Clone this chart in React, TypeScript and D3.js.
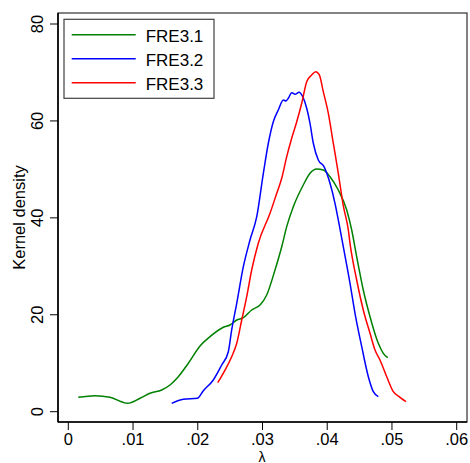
import React from "react";
import * as d3 from "d3";

const xTicks = [0, 0.01, 0.02, 0.03, 0.04, 0.05, 0.06];
const xTickLabels = ["0", ".01", ".02", ".03", ".04", ".05", ".06"];
const yTicks = [0, 20, 40, 60, 80];
const seriesNames = ["FRE3.1", "FRE3.2", "FRE3.3"];
const seriesColors = ["#008000", "#0000ff", "#ff0000"];

const fre31: [number, number][] = [
  [0.00154, 2.97], [0.00412, 3.3], [0.00644, 2.97], [0.00918, 1.73], [0.01108, 2.77],
  [0.01262, 3.8], [0.01443, 4.48], [0.01571, 5.51], [0.01699, 7.22], [0.01854, 9.99],
  [0.02035, 13.56], [0.02189, 15.48], [0.02395, 17.42], [0.02498, 17.89], [0.02602, 18.92],
  [0.02704, 19.4], [0.02833, 20.99], [0.02962, 22.02], [0.03065, 24.08], [0.03193, 29.24],
  [0.03297, 34.05], [0.03374, 38.18], [0.03476, 42.3], [0.0363, 46.78], [0.03734, 49.19],
  [0.03837, 50.08], [0.03939, 49.88], [0.04043, 48.49], [0.04171, 45.75], [0.04301, 41.62],
  [0.04378, 37.49], [0.04455, 31.98], [0.04557, 25.11], [0.04661, 19.6], [0.04789, 14.11],
  [0.04866, 12.05], [0.04934, 11.14],
];

const fre32: [number, number][] = [
  [0.01597, 1.73], [0.01777, 2.56], [0.01993, 2.77], [0.02086, 4.33], [0.0224, 6.54],
  [0.0237, 9.64], [0.02472, 12.38], [0.02524, 16.86], [0.02602, 22.37], [0.02704, 29.92],
  [0.02807, 35.43], [0.02911, 40.24], [0.03013, 49.19], [0.0309, 55.39], [0.03167, 59.84],
  [0.03244, 62.26], [0.03322, 64.32], [0.03363, 64.11], [0.03399, 64.67], [0.03451, 65.83],
  [0.03502, 65.5], [0.03564, 65.91], [0.03621, 65.0], [0.03683, 62.61], [0.03734, 59.51],
  [0.03785, 55.39], [0.03862, 51.94], [0.0395, 50.56], [0.04043, 47.13], [0.0412, 43.0],
  [0.04171, 39.56], [0.04248, 34.05], [0.04352, 26.5], [0.04429, 20.31], [0.04533, 13.41],
  [0.04635, 7.22], [0.04712, 4.13], [0.04789, 3.1],
];

const fre33: [number, number][] = [
  [0.02308, 5.98], [0.02421, 8.6], [0.02524, 11.35], [0.02602, 14.11], [0.02679, 18.92],
  [0.02756, 23.73], [0.02833, 29.24], [0.02935, 34.75], [0.03116, 40.94], [0.0322, 45.07],
  [0.03297, 48.16], [0.03374, 52.62], [0.03451, 56.42], [0.03529, 59.84], [0.03606, 63.64],
  [0.03683, 68.1], [0.0376, 69.48], [0.03822, 70.16], [0.03878, 69.48], [0.03939, 66.03],
  [0.04017, 61.58], [0.04094, 55.39], [0.04171, 49.19], [0.04248, 42.52], [0.04326, 37.49],
  [0.04352, 34.75], [0.04455, 27.18], [0.04557, 20.99], [0.04661, 16.18], [0.04738, 12.73],
  [0.04815, 10.67], [0.04919, 7.22], [0.05021, 4.13], [0.05124, 2.97], [0.05217, 2.06],
];

const allSeries = [fre31, fre32, fre33];

export default function App() {
  const W = 470, H = 463;
  const plot = { left: 58, top: 13, right: 467, bottom: 422 };
  const x = d3.scaleLinear().domain([0, 0.06]).range([68.3, 456.7]);
  const y = d3.scaleLinear().domain([0, 80]).range([411.7, 24]);
  const line = d3
    .line<[number, number]>()
    .x((d) => x(d[0]))
    .y((d) => y(d[1]))
    .curve(d3.curveMonotoneX);
  const font = "'Liberation Sans', Arial, Helvetica, sans-serif";

  return (
    <svg
      width={W}
      height={H}
      style={{ position: "absolute", left: 0, top: 0, background: "#fff" }}
      fontFamily={font}
    >
      <rect x={0} y={0} width={W} height={H} fill="#fff" />
      {/* frame */}
      <rect
        x={plot.left}
        y={plot.top}
        width={plot.right - plot.left}
        height={plot.bottom - plot.top}
        fill="none"
        stroke="#404040"
        strokeWidth={1.3}
      />
      {/* series */}
      {allSeries.map((s, i) => (
        <path key={i} d={line(s) || ""} fill="none" stroke={seriesColors[i]} strokeWidth={1.5} />
      ))}
      {/* axes */}
      <line x1={plot.left} x2={plot.left} y1={plot.top} y2={plot.bottom} stroke="#000" strokeWidth={1.6} />
      <line x1={plot.left} x2={plot.right} y1={plot.bottom} y2={plot.bottom} stroke="#000" strokeWidth={1.6} />
      {yTicks.map((t) => (
        <g key={t}>
          <line x1={plot.left - 8} x2={plot.left} y1={y(t)} y2={y(t)} stroke="#000" strokeWidth={1} />
          <text
            transform={`translate(43,${y(t)}) rotate(-90)`}
            textAnchor="middle"
            fontSize={16.5}
            fill="#000"
          >
            {t}
          </text>
        </g>
      ))}
      {xTicks.map((t, i) => (
        <g key={t}>
          <line x1={x(t)} x2={x(t)} y1={plot.bottom} y2={plot.bottom + 8} stroke="#000" strokeWidth={1} />
          <text x={x(t)} y={445} textAnchor="middle" fontSize={16.5} fill="#000">
            {xTickLabels[i]}
          </text>
        </g>
      ))}
      <text transform={`translate(25,217.5) rotate(-90)`} textAnchor="middle" fontSize={16.5} fill="#000">
        Kernel density
      </text>
      <text x={262} y={461.5} textAnchor="middle" fontSize={14} fill="#000">
        λ
      </text>
      {/* legend */}
      <rect x={64} y={19.3} width={150} height={79} fill="#fff" stroke="#404040" strokeWidth={1.2} />
      {seriesNames.map((n, i) => {
        const ly = 34.7 + i * 24;
        return (
          <g key={n}>
            <line x1={71.7} x2={135.7} y1={ly} y2={ly} stroke={seriesColors[i]} strokeWidth={1.5} />
            <text x={145.7} y={ly + 7} fontSize={17} fill="#000">
              {n}
            </text>
          </g>
        );
      })}
    </svg>
  );
}
